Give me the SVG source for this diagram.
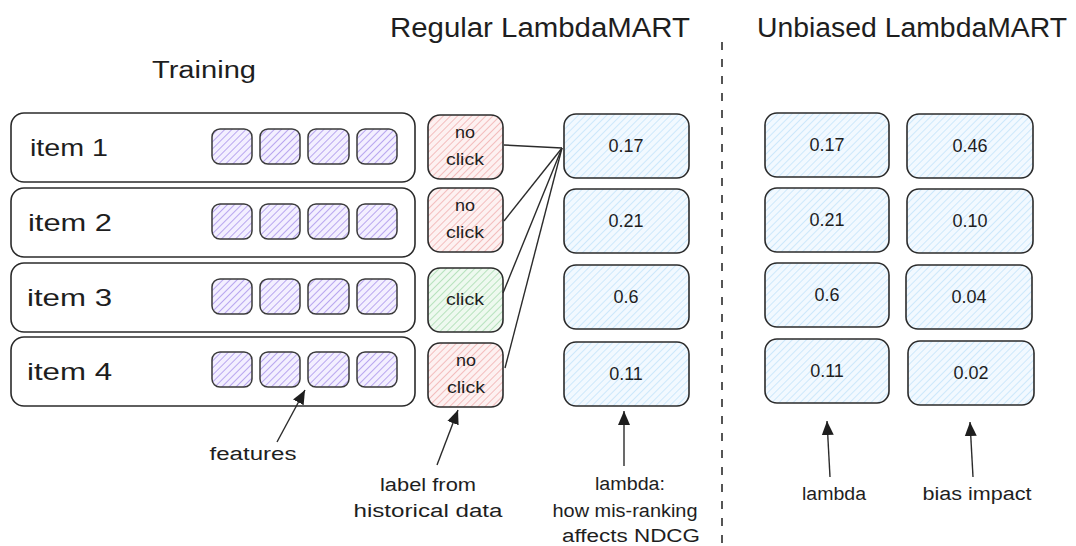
<svg xmlns="http://www.w3.org/2000/svg" width="1076" height="546" viewBox="0 0 1076 546">
<defs>
<pattern id="hPurple" patternUnits="userSpaceOnUse" width="5" height="5" patternTransform="rotate(45)">
<rect width="5" height="5" fill="#f3efff"/>
<line x1="0" y1="0" x2="0" y2="5" stroke="#a994ec" stroke-width="1.6"/>
</pattern>
<pattern id="hRed" patternUnits="userSpaceOnUse" width="5" height="5" patternTransform="rotate(45)">
<rect width="5" height="5" fill="#fdf1f1"/>
<line x1="0" y1="0" x2="0" y2="5" stroke="#f0a7a7" stroke-width="1.4"/>
</pattern>
<pattern id="hGreen" patternUnits="userSpaceOnUse" width="5" height="5" patternTransform="rotate(45)">
<rect width="5" height="5" fill="#eef9ef"/>
<line x1="0" y1="0" x2="0" y2="5" stroke="#9fd9a7" stroke-width="1.4"/>
</pattern>
<pattern id="hBlue" patternUnits="userSpaceOnUse" width="5" height="5" patternTransform="rotate(45)">
<rect width="5" height="5" fill="#f2f9ff"/>
<line x1="0" y1="0" x2="0" y2="5" stroke="#b9dffa" stroke-width="1.3"/>
</pattern>
<marker id="arr" markerUnits="userSpaceOnUse" markerWidth="16" markerHeight="14" refX="14" refY="7" orient="auto">
<path d="M0,1 L14,7 L0,13 Z" fill="#1e1e1e"/>
</marker>
<style>
.t{font-family:"Liberation Sans","DejaVu Sans",sans-serif;fill:#1e1e1e}
.box{stroke:#2b2b2b;stroke-width:1.6}
.item{fill:#ffffff;stroke:#2b2b2b;stroke-width:1.6}
.feat{fill:url(#hPurple);stroke:#3a3a3a;stroke-width:1.5}
.red{fill:url(#hRed)}
.green{fill:url(#hGreen)}
.blue{fill:url(#hBlue)}
.val{font-size:18px;text-anchor:middle}
.lbl{font-size:17px;text-anchor:middle}
.cap{font-size:18px;text-anchor:middle}
.conn{stroke:#2b2b2b;stroke-width:1.4;fill:none}
</style>
</defs>
<rect width="1076" height="546" fill="#ffffff"/>

<g id="titles">
<text class="t" x="390" y="37" font-size="27" textLength="300" lengthAdjust="spacingAndGlyphs">Regular LambdaMART</text>
<text class="t" x="757" y="37" font-size="27" textLength="310" lengthAdjust="spacingAndGlyphs">Unbiased LambdaMART</text>
<text class="t" x="152" y="78" font-size="23" textLength="104" lengthAdjust="spacingAndGlyphs">Training</text>
</g>

<g id="divider">
<line x1="722" y1="42" x2="722" y2="546" stroke="#555" stroke-width="2" stroke-dasharray="8 9"/>
</g>

<g id="item1">
<rect class="item" x="11" y="113" width="404" height="69" rx="13"/>
<text class="t" x="30" y="156" font-size="24" textLength="78" lengthAdjust="spacingAndGlyphs">item 1</text>
<rect class="feat" x="212" y="129" width="40" height="35" rx="8"/>
<rect class="feat" x="260" y="129" width="40" height="35" rx="8"/>
<rect class="feat" x="308" y="129" width="41" height="35" rx="8"/>
<rect class="feat" x="357" y="129" width="40" height="35" rx="8"/>
</g>
<g id="item2">
<rect class="item" x="11" y="188" width="404" height="69" rx="13"/>
<text class="t" x="28" y="231" font-size="24" textLength="84" lengthAdjust="spacingAndGlyphs">item 2</text>
<rect class="feat" x="212" y="204" width="40" height="35" rx="8"/>
<rect class="feat" x="260" y="204" width="40" height="35" rx="8"/>
<rect class="feat" x="308" y="204" width="41" height="35" rx="8"/>
<rect class="feat" x="357" y="204" width="40" height="35" rx="8"/>
</g>
<g id="item3">
<rect class="item" x="11" y="263" width="404" height="69" rx="13"/>
<text class="t" x="27" y="306" font-size="24" textLength="85" lengthAdjust="spacingAndGlyphs">item 3</text>
<rect class="feat" x="212" y="279" width="40" height="35" rx="8"/>
<rect class="feat" x="260" y="279" width="40" height="35" rx="8"/>
<rect class="feat" x="308" y="279" width="41" height="35" rx="8"/>
<rect class="feat" x="357" y="279" width="40" height="35" rx="8"/>
</g>
<g id="item4">
<rect class="item" x="11" y="337" width="404" height="69" rx="13"/>
<text class="t" x="27" y="380" font-size="24" textLength="85" lengthAdjust="spacingAndGlyphs">item 4</text>
<rect class="feat" x="212" y="352" width="40" height="35" rx="8"/>
<rect class="feat" x="260" y="352" width="40" height="35" rx="8"/>
<rect class="feat" x="308" y="352" width="41" height="35" rx="8"/>
<rect class="feat" x="357" y="352" width="40" height="35" rx="8"/>
</g>

<g id="label1">
<rect class="box red" x="428" y="115" width="75" height="64" rx="12"/>
<text class="t lbl" x="465" y="138" textLength="20" lengthAdjust="spacingAndGlyphs">no</text>
<text class="t lbl" x="465" y="165" textLength="38" lengthAdjust="spacingAndGlyphs">click</text>
</g>
<g id="label2">
<rect class="box red" x="428" y="188" width="75" height="64" rx="12"/>
<text class="t lbl" x="465" y="211" textLength="20" lengthAdjust="spacingAndGlyphs">no</text>
<text class="t lbl" x="465" y="238" textLength="38" lengthAdjust="spacingAndGlyphs">click</text>
</g>
<g id="label3">
<rect class="box green" x="428" y="268" width="75" height="64" rx="12"/>
<text class="t lbl" x="465" y="305" textLength="38" lengthAdjust="spacingAndGlyphs">click</text>
</g>
<g id="label4">
<rect class="box red" x="428" y="343" width="75" height="64" rx="12"/>
<text class="t lbl" x="466" y="366" textLength="20" lengthAdjust="spacingAndGlyphs">no</text>
<text class="t lbl" x="466" y="393" textLength="38" lengthAdjust="spacingAndGlyphs">click</text>
</g>

<g id="lambda1">
<rect class="box blue" x="564" y="114" width="125" height="64" rx="12"/>
<text class="t val" x="626" y="152">0.17</text>
</g>
<g id="lambda2">
<rect class="box blue" x="564" y="189" width="125" height="64" rx="12"/>
<text class="t val" x="626" y="227">0.21</text>
</g>
<g id="lambda3">
<rect class="box blue" x="564" y="265" width="125" height="64" rx="12"/>
<text class="t val" x="626" y="303">0.6</text>
</g>
<g id="lambda4">
<rect class="box blue" x="564" y="342" width="125" height="64" rx="12"/>
<text class="t val" x="626" y="380">0.11</text>
</g>

<g id="ulambda1">
<rect class="box blue" x="765" y="113" width="124" height="64" rx="12"/>
<text class="t val" x="827" y="151">0.17</text>
</g>
<g id="ulambda2">
<rect class="box blue" x="765" y="188" width="124" height="64" rx="12"/>
<text class="t val" x="827" y="226">0.21</text>
</g>
<g id="ulambda3">
<rect class="box blue" x="765" y="263" width="124" height="64" rx="12"/>
<text class="t val" x="827" y="301">0.6</text>
</g>
<g id="ulambda4">
<rect class="box blue" x="765" y="339" width="124" height="64" rx="12"/>
<text class="t val" x="827" y="377">0.11</text>
</g>

<g id="bias1">
<rect class="box blue" x="907" y="114" width="126" height="64" rx="12"/>
<text class="t val" x="970" y="152">0.46</text>
</g>
<g id="bias2">
<rect class="box blue" x="907" y="189" width="126" height="64" rx="12"/>
<text class="t val" x="970" y="227">0.10</text>
</g>
<g id="bias3">
<rect class="box blue" x="906" y="265" width="126" height="64" rx="12"/>
<text class="t val" x="969" y="303">0.04</text>
</g>
<g id="bias4">
<rect class="box blue" x="908" y="341" width="126" height="64" rx="12"/>
<text class="t val" x="971" y="379">0.02</text>
</g>

<g id="connectors">
<line class="conn" x1="504" y1="145" x2="562" y2="148"/>
<line class="conn" x1="504" y1="221" x2="562" y2="148"/>
<line class="conn" x1="503" y1="293" x2="562" y2="148"/>
<line class="conn" x1="505" y1="368" x2="562" y2="148"/>
<line class="conn" x1="277" y1="442" x2="305" y2="390" marker-end="url(#arr)"/>
<line class="conn" x1="437" y1="465" x2="458" y2="410" stroke="#666" stroke-width="2" marker-end="url(#arr)"/>
<line class="conn" x1="624" y1="466" x2="624" y2="411" marker-end="url(#arr)"/>
<line class="conn" x1="830" y1="477" x2="827" y2="421" marker-end="url(#arr)"/>
<line class="conn" x1="973" y1="477" x2="970" y2="422" marker-end="url(#arr)"/>
</g>

<g id="captions">
<text class="t cap" x="253" y="460" textLength="87" lengthAdjust="spacingAndGlyphs">features</text>
<text class="t cap" x="428" y="491" textLength="96" lengthAdjust="spacingAndGlyphs">label from</text>
<text class="t cap" x="428" y="517" textLength="149" lengthAdjust="spacingAndGlyphs">historical data</text>
<text class="t cap" x="630" y="490" textLength="70" lengthAdjust="spacingAndGlyphs">lambda:</text>
<text class="t cap" x="625" y="517" textLength="145" lengthAdjust="spacingAndGlyphs">how mis-ranking</text>
<text class="t cap" x="631" y="542" textLength="138" lengthAdjust="spacingAndGlyphs">affects NDCG</text>
<text class="t cap" x="834" y="500" textLength="64" lengthAdjust="spacingAndGlyphs">lambda</text>
<text class="t cap" x="977" y="500" textLength="109" lengthAdjust="spacingAndGlyphs">bias impact</text>
</g>
</svg>
